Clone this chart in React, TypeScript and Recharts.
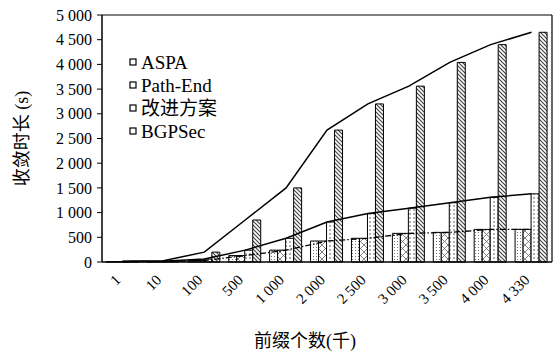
import React from "react";
import {
  ComposedChart,
  Bar,
  Line,
  XAxis,
  YAxis,
} from "recharts";

const categories = ["1", "10", "100", "500", "1 000", "2 000", "2 500", "3 000", "3 500", "4 000", "4 330"];
const aspa = [5, 8, 30, 130, 240, 425, 480, 580, 600, 660, 660];
const pathEnd = [5, 8, 30, 130, 240, 425, 480, 580, 600, 660, 660];
const improved = [8, 15, 60, 240, 480, 810, 980, 1090, 1200, 1310, 1380];
const bgpsec = [15, 25, 200, 850, 1500, 2670, 3200, 3560, 4040, 4400, 4650];
const yTicks = [0, 500, 1000, 1500, 2000, 2500, 3000, 3500, 4000, 4500, 5000];

const data = categories.map((name, i) => ({
  name,
  aspa: aspa[i],
  pathEnd: pathEnd[i],
  improved: improved[i],
  bgpsec: bgpsec[i],
}));

const FONT = "'Liberation Serif', 'Noto Sans CJK SC', serif";

const legendItems = ["ASPA", "Path-End", "改进方案", "BGPSec"];

const fmt = (v: number) => (v >= 1000 ? `${Math.floor(v / 1000)} ${String(v % 1000).padStart(3, "0")}` : String(v));

const XTick = (props: any) => {
  const { x, y, payload } = props;
  const tx = x - 1;
  const ty = y + 11;
  return (
    <text
      x={tx}
      y={ty}
      transform={`rotate(-45 ${tx} ${ty})`}
      textAnchor="end"
      fontSize={15}
      fontFamily={FONT}
      fill="#000"
    >
      {payload.value}
    </text>
  );
};

// legend drawn as an overlay so it doesn't eat plot space
const LegendBox = () => (
  <div style={{ position: "absolute", left: 129, top: 51, fontFamily: FONT, fontSize: 19, color: "#000", lineHeight: "23px" }}>
    {legendItems.map((t) => (
      <div key={t} style={{ display: "flex", alignItems: "center", height: 23 }}>
        <svg width={9} height={9} style={{ marginRight: 3 }}>
          <rect x={1} y={1} width={6} height={6} fill="#fff" stroke="#000" strokeWidth={1.2} />
        </svg>
        <span>{t}</span>
      </div>
    ))}
  </div>
);

export default function App() {
  return (
    <div style={{ position: "absolute", left: 0, top: 0 }}>
      <ComposedChart
        width={558}
        height={353}
        data={data}
        margin={{ top: 14, right: 5, left: 0, bottom: 0 }}
        barGap={0}
        barSize={8}
      >
        <defs>
          <pattern id="pAspa" width="3" height="3" patternUnits="userSpaceOnUse">
            <rect width="3" height="3" fill="#fff" />
            <rect x="1" y="1" width="1" height="1" fill="#777" />
          </pattern>
          <pattern id="pPath" width="7" height="7" patternUnits="userSpaceOnUse">
            <rect width="7" height="7" fill="#fff" />
            <path d="M0,0 L7,7 M7,0 L0,7" stroke="#666" strokeWidth="0.8" />
          </pattern>
          <pattern id="pImp" width="4" height="4" patternUnits="userSpaceOnUse">
            <rect width="4" height="4" fill="#fff" />
            <rect x="1.5" y="1" width="1" height="2" fill="#666" />
          </pattern>
          <pattern id="pBgp" width="4" height="4" patternUnits="userSpaceOnUse">
            <rect width="4" height="4" fill="#fff" />
            <path d="M-1,-1 L5,5 M-1,3 L1,5 M3,-1 L5,1" stroke="#444" strokeWidth="1.2" />
          </pattern>
        </defs>
        <XAxis
          dataKey="name"
          interval={0}
          tickLine={false}
          axisLine={{ stroke: "#000", strokeWidth: 1.5 }}
          tick={<XTick />}
          height={91}
          label={{ value: "前缀个数(千)", position: "insideBottom", offset: 6, dx: -22, fontSize: 18, fontFamily: FONT, fill: "#000" }}
        />
        <XAxis xAxisId="top" dataKey="name" orientation="top" height={1} tick={false} tickLine={false} axisLine={{ stroke: "#000", strokeWidth: 1.2 }} />
        <YAxis
          domain={[0, 5000]}
          ticks={yTicks}
          interval={0}
          width={102}
          tickFormatter={fmt}
          tick={{ fontSize: 16, fontFamily: FONT, fill: "#000" }}
          tickSize={5}
          tickMargin={5}
          tickLine={{ stroke: "#000" }}
          axisLine={{ stroke: "#000", strokeWidth: 1.5 }}
          label={{ value: "收敛时长 (s)", angle: -90, position: "insideLeft", offset: 22, style: { textAnchor: "middle" }, fontSize: 18, fontFamily: FONT, fill: "#000" }}
        />
        <YAxis yAxisId="right" orientation="right" width={1} domain={[0, 5000]} tick={false} tickLine={false} axisLine={{ stroke: "#000", strokeWidth: 1.2 }} />
        <Bar dataKey="aspa" name="ASPA" fill="url(#pAspa)" stroke="#000" strokeWidth={1} isAnimationActive={false} />
        <Bar dataKey="pathEnd" name="Path-End" fill="url(#pPath)" stroke="#000" strokeWidth={1} isAnimationActive={false} />
        <Bar dataKey="improved" name="改进方案" fill="url(#pImp)" stroke="#000" strokeWidth={1} isAnimationActive={false} />
        <Bar dataKey="bgpsec" name="BGPSec" fill="url(#pBgp)" stroke="#000" strokeWidth={1} isAnimationActive={false} />
        <Line dataKey="bgpsec" type="linear" stroke="#000" strokeWidth={1.5} dot={false} legendType="none" isAnimationActive={false} />
        <Line dataKey="improved" type="linear" stroke="#000" strokeWidth={1.5} dot={false} legendType="none" isAnimationActive={false} />
        <Line dataKey="aspa" type="linear" stroke="#000" strokeWidth={1.3} strokeDasharray="6 2 1.5 2" dot={false} legendType="none" isAnimationActive={false} />
      </ComposedChart>
      <LegendBox />
    </div>
  );
}
